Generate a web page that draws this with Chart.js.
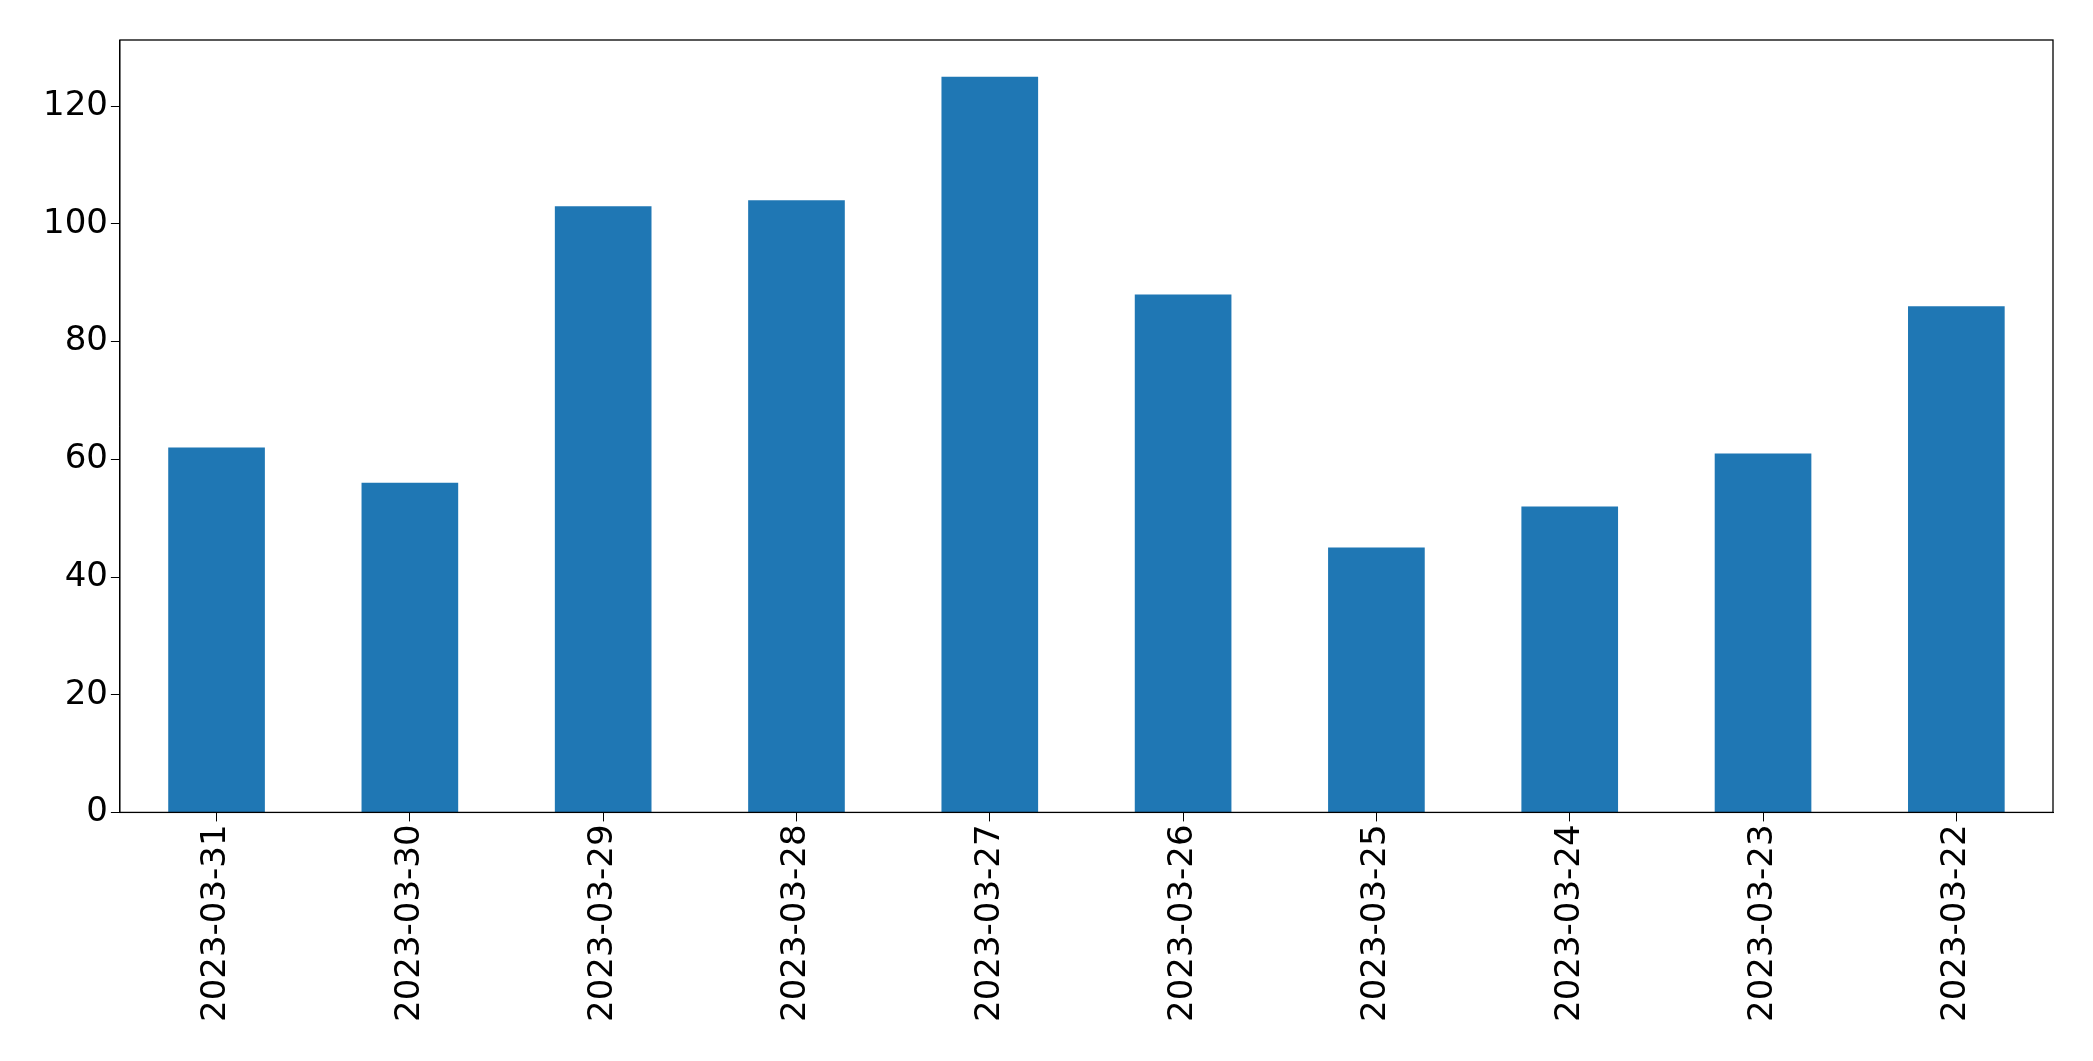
<!DOCTYPE html>
<html><head><meta charset="utf-8">
<script src="https://cdn.jsdelivr.net/npm/chart.js@4"></script>
<style>html,body{margin:0;padding:0;background:#fff}#w{width:2093px;height:1061px}</style>
</head><body><div id="w"><canvas id="c"></canvas></div>
<script>
const categories=["2023-03-31","2023-03-30","2023-03-29","2023-03-28","2023-03-27","2023-03-26","2023-03-25","2023-03-24","2023-03-23","2023-03-22"];
const values=[62,56,103,104,125,88,45,52,61,86];
const frame={id:'frame',afterDraw(ch){const a=ch.chartArea,x=ch.ctx;x.save();x.strokeStyle='#000';x.lineWidth=1.3;x.strokeRect(a.left,a.top,a.right-a.left,a.bottom-a.top);x.restore();}};
new Chart(document.getElementById('c'),{type:'bar',
data:{labels:categories,datasets:[{data:values,backgroundColor:'#1f77b4',categoryPercentage:1,barPercentage:0.5}]},
options:{responsive:true,maintainAspectRatio:false,animation:false,
layout:{padding:{left:40,right:40,top:40,bottom:36}},
plugins:{legend:{display:false},tooltip:{enabled:false}},
scales:{
x:{grid:{offset:false,drawOnChartArea:false,color:'#000',tickLength:9},border:{color:'#000'},
ticks:{color:'#000',font:{family:'DejaVu Sans',size:34},maxRotation:90,minRotation:90}},
y:{min:0,max:131.25,grid:{drawOnChartArea:false,color:'#000',tickLength:9},border:{color:'#000'},
ticks:{stepSize:20,color:'#000',font:{family:'DejaVu Sans',size:34},callback:v=>v%20===0?v:null}}
}},plugins:[frame]});
</script></body></html>
